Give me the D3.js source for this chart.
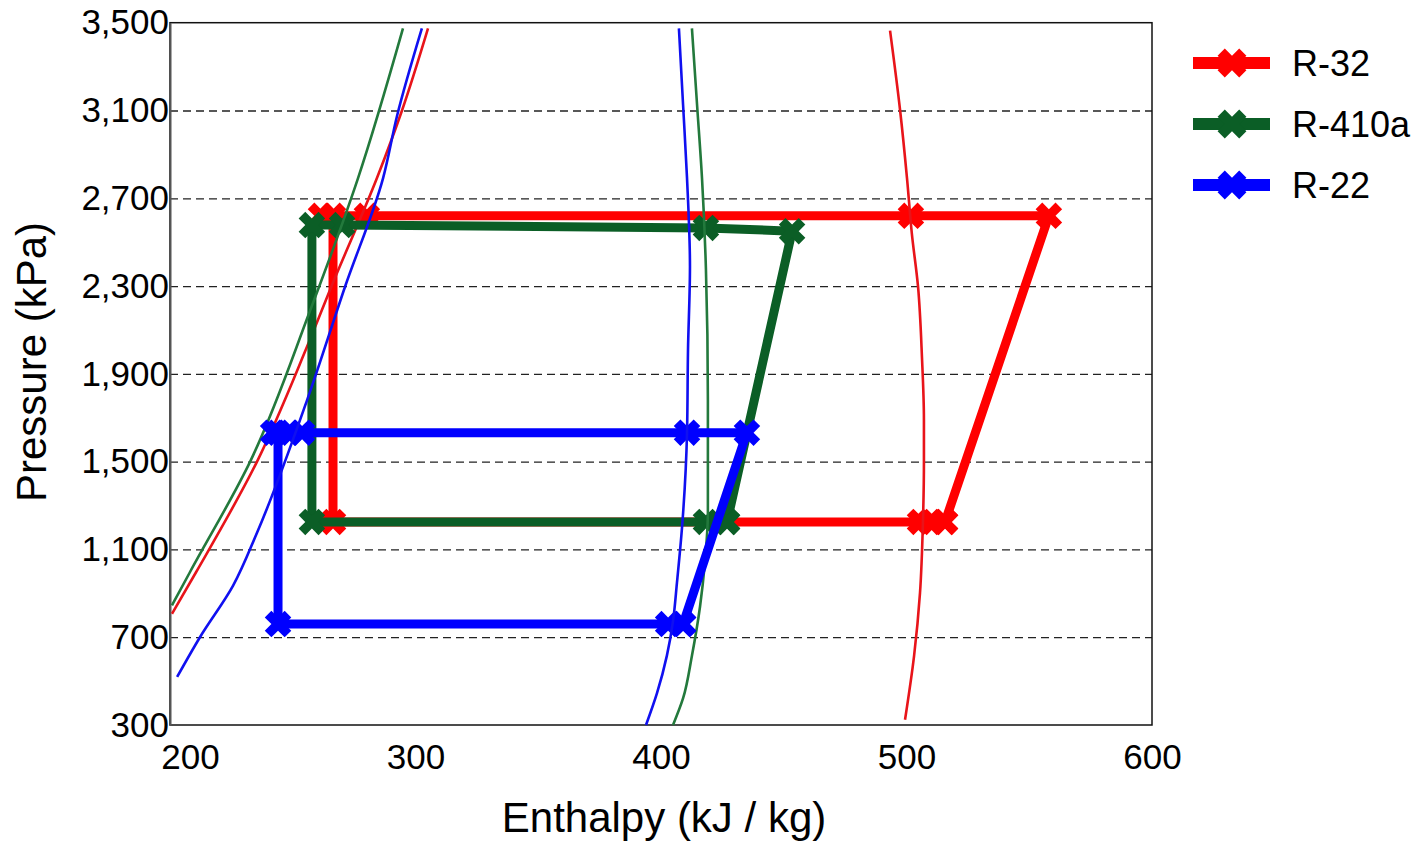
<!DOCTYPE html>
<html>
<head>
<meta charset="utf-8">
<script src="https://cdn.jsdelivr.net/npm/d3@7"></script>
<style>
body { margin: 0; background: #fff; }
svg { font-family: "Liberation Sans", Arial, sans-serif; }
</style>
</head>
<body>
<div id="chart"></div>
<script>
var refrigerants = ["R-32", "R-410a", "R-22"];
var xTicks = [200, 300, 400, 500, 600];
var yTicks = [300, 700, 1100, 1500, 1900, 2300, 2700, 3100, 3500];

// refrigeration cycles, [enthalpy kJ/kg, pressure kPa]
var cycleR32 = [[515.7, 1225], [558.0, 2620], [501.8, 2620], [280.2, 2620], [261.5, 2620],
    [266.4, 2620], [266.4, 1225], [505.5, 1225], [509.6, 1225], [515.7, 1225]];
var cycleR410a = [[426.9, 1225], [453.4, 2550], [418.3, 2565], [270.1, 2578], [257.8, 2578],
    [257.8, 1225], [418.3, 1225], [426.9, 1225]];
var cycleR22 = [[409.0, 760], [435.0, 1632], [410.6, 1632], [253.8, 1632], [248.1, 1632],
    [242.0, 1632], [244.0, 1632], [244.0, 760], [402.9, 760], [409.0, 760]];

// saturation curves (liquid side, vapour side)
var liquidR32 = [[200.8, 807], [210.6, 996], [235.4, 1499], [255.8, 2023], [266.0, 2305],
    [284.3, 2792], [294.5, 3100], [305.1, 3474]];
var vaporR32 = [[493.3, 3464], [497.4, 3100], [500.2, 2792], [502.2, 2537], [504.7, 2297],
    [506.3, 1975], [507.1, 1690], [507.1, 1499], [506.7, 1225], [505.5, 902], [503.1, 616],
    [499.4, 324]];
var liquidR410a = [[200.8, 845], [208.1, 996], [232.6, 1499], [257.0, 2186], [276.6, 2792],
    [294.9, 3474]];
var vaporR410a = [[412.6, 3474], [414.7, 3124], [416.7, 2792], [418.3, 2377], [419.1, 1779],
    [419.1, 1272], [417.9, 1043], [415.9, 840], [412.6, 616], [409.0, 422], [404.9, 300]];
var liquidR22 = [[202.9, 519], [212.2, 700], [225.7, 935], [235.4, 1175], [255.8, 1779],
    [271.3, 2297], [286.8, 2792], [292.5, 3076], [302.6, 3474]];
var vaporR22 = [[407.3, 3474], [409.0, 3124], [410.6, 2792], [411.8, 2389], [411.0, 2009],
    [410.6, 1632], [408.6, 1205], [406.5, 949], [404.9, 774], [402.4, 616], [398.4, 446],
    [393.9, 300]];

var cycles = { "R-32": cycleR32, "R-410a": cycleR410a, "R-22": cycleR22 };
var domes = {
    "R-32": [liquidR32, vaporR32],
    "R-410a": [liquidR410a, vaporR410a],
    "R-22": [liquidR22, vaporR22]
};
var cycleColor = { "R-32": "#ff0000", "R-410a": "#0b5e26", "R-22": "#0000ff" };
var domeColor = { "R-32": "#e8141a", "R-410a": "#23793c", "R-22": "#1010f0" };

var svgWidth = 1420, svgHeight = 843;
var plotLeft = 170, plotRight = 1152, plotTop = 22.7, plotBottom = 725;

var svg = d3.select("#chart").append("svg")
    .attr("width", svgWidth)
    .attr("height", svgHeight);

var x = d3.scaleLinear().domain([200, 600]).range([plotLeft, plotRight]);
var y = d3.scaleLinear().domain([300, 3500]).range([plotBottom, plotTop]);

// dashed gridlines
svg.append("g")
    .attr("transform", "translate(" + plotLeft + ",0)")
    .call(d3.axisLeft(y).tickValues(yTicks.slice(1, -1)).tickSize(-(plotRight - plotLeft)).tickFormat(""))
    .call(g => g.select(".domain").remove())
    .selectAll("line")
    .attr("stroke", "#222")
    .attr("stroke-width", 1.3)
    .attr("stroke-dasharray", "8,5");

// frame
svg.append("rect")
    .attr("x", plotLeft).attr("y", plotTop)
    .attr("width", plotRight - plotLeft).attr("height", plotBottom - plotTop)
    .attr("fill", "none")
    .attr("stroke", "#111")
    .attr("stroke-width", 1.5);

// axes
var yAxis = svg.append("g")
    .attr("transform", "translate(" + plotLeft + ",0)")
    .call(d3.axisLeft(y).tickValues(yTicks).tickSize(0).tickPadding(1).tickFormat(d3.format(",")));
yAxis.select(".domain").attr("stroke", "#555").attr("stroke-width", 2);
yAxis.selectAll("text").attr("font-size", 35).attr("fill", "#000")
    .attr("font-family", "'Liberation Sans', Arial, sans-serif");

var xAxis = svg.append("g")
    .attr("transform", "translate(0," + plotBottom + ")")
    .call(d3.axisBottom(x).tickValues(xTicks).tickSize(0).tickPadding(19));
xAxis.select(".domain").remove();
xAxis.selectAll("text").attr("font-size", 35).attr("fill", "#000")
    .attr("font-family", "'Liberation Sans', Arial, sans-serif")
    .attr("dx", (d, i) => i === 0 ? 20 : 0);

// axis titles
svg.append("text")
    .attr("x", 664).attr("y", 832)
    .attr("text-anchor", "middle")
    .attr("font-size", 42)
    .text("Enthalpy (kJ / kg)");

svg.append("text")
    .attr("transform", "translate(46,362) rotate(-90)")
    .attr("text-anchor", "middle")
    .attr("font-size", 42)
    .text("Pressure (kPa)");

var line = d3.line().x(d => x(d[0])).y(d => y(d[1]));
var curve = d3.line().x(d => x(d[0])).y(d => y(d[1])).curve(d3.curveMonotoneY);
var marker = d3.symbol().type(d3.symbolCross).size(440);

var plot = svg.append("g");

refrigerants.forEach(function (name) {
    var g = plot.append("g");

    g.append("path")
        .datum(cycles[name])
        .attr("d", line)
        .attr("fill", "none")
        .attr("stroke", cycleColor[name])
        .attr("stroke-width", 9)
        .attr("stroke-linejoin", "round");

    g.selectAll(".pt")
        .data(cycles[name])
        .enter()
        .append("path")
        .attr("class", "pt")
        .attr("d", marker)
        .attr("fill", cycleColor[name])
        .attr("transform", d => "translate(" + x(d[0]) + "," + y(d[1]) + ") rotate(45)");

    domes[name].forEach(function (side) {
        g.append("path")
            .datum(side)
            .attr("d", curve)
            .attr("fill", "none")
            .attr("stroke", domeColor[name])
            .attr("stroke-width", 2.6);
    });
});

// legend
var legend = svg.append("g")
    .selectAll("g")
    .data(refrigerants)
    .enter()
    .append("g")
    .attr("transform", (d, i) => "translate(1193," + (63 + i * 61) + ")");

legend.append("line")
    .attr("x1", 0).attr("x2", 77)
    .attr("stroke", d => cycleColor[d])
    .attr("stroke-width", 12);

legend.append("path")
    .attr("d", d3.symbol().type(d3.symbolCross).size(520))
    .attr("fill", d => cycleColor[d])
    .attr("transform", "translate(39,0) rotate(45)");

legend.append("text")
    .attr("x", 99)
    .attr("dy", "0.36em")
    .attr("font-size", 36)
    .text(d => d);
</script>
</body>
</html>
